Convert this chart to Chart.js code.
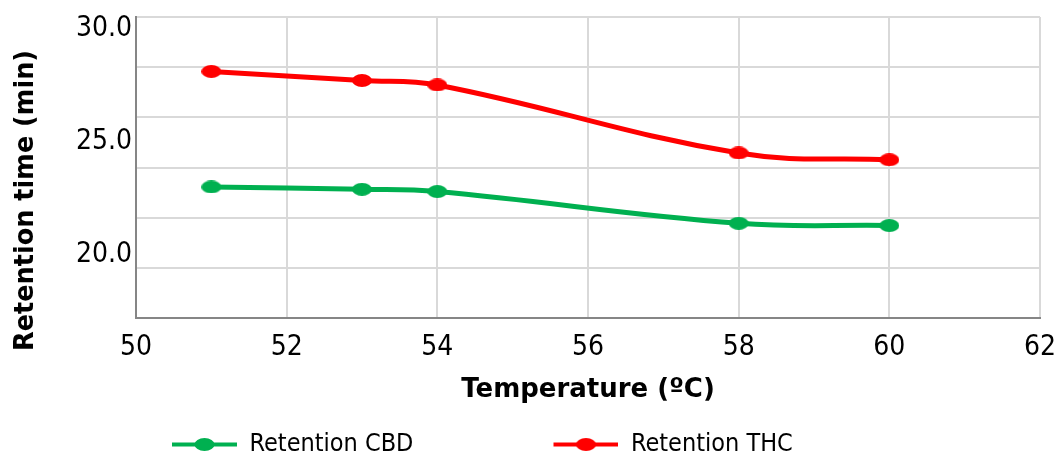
<!DOCTYPE html>
<html>
<head>
<meta charset="utf-8">
<script src="https://cdn.jsdelivr.net/npm/chart.js@4/dist/chart.umd.min.js"></script>
<style>
  html, body { margin: 0; padding: 0; background: #ffffff; }
  #wrap { width: 1055px; height: 457px; }
</style>
</head>
<body>
<div id="wrap"><canvas id="c" width="1055" height="457"></canvas></div>
<script>
// Retention time versus column temperature
const temperatures = [51, 53, 54, 58, 60];
const retentionCBD = [23.0, 22.9, 22.8, 21.4, 21.3];
const retentionTHC = [28.1, 27.7, 27.5, 24.5, 24.2];
const yTickLabels = [20, 25, 30];
const seriesNames = ['Retention CBD', 'Retention THC'];
const seriesColors = ['#00b050', '#ff0000'];

const Y_MIN = 17.22, Y_MAX = 30.5, GRID_ROWS = 6;
const FONT = "'DejaVu Sans Condensed', 'DejaVu Sans', sans-serif";
const BOLD_FONT = "'DejaVu Sans', sans-serif";
const LEG_GAP = 130, LEG_LINE = 65, LEG_LEFT = 32;

// Oval marker used on the data points
function dataMarker(color) {
  const c = document.createElement('canvas');
  c.width = 20; c.height = 13;
  const g = c.getContext('2d');
  g.fillStyle = color;
  g.beginPath();
  g.ellipse(10, 6.5, 10, 6.5, 0, 0, Math.PI * 2);
  g.fill();
  return c;
}

// Legend swatch: short line with an oval in the middle, preceded by spacing
function legendMarker(color) {
  const c = document.createElement('canvas');
  c.width = LEG_GAP + LEG_LINE; c.height = 13;
  const g = c.getContext('2d');
  g.strokeStyle = color;
  g.lineWidth = 4;
  g.beginPath();
  g.moveTo(LEG_GAP, 6.5);
  g.lineTo(LEG_GAP + LEG_LINE, 6.5);
  g.stroke();
  g.fillStyle = color;
  g.beginPath();
  g.ellipse(LEG_GAP + LEG_LINE / 2, 6.5, 10, 6.5, 0, 0, Math.PI * 2);
  g.fill();
  return c;
}

const seriesValues = [retentionCBD, retentionTHC];
const datasets = seriesNames.map((name, k) => ({
  label: name,
  data: temperatures.map((t, i) => ({ x: t, y: seriesValues[k][i] })),
  borderColor: seriesColors[k],
  backgroundColor: seriesColors[k],
  borderWidth: 5,
  tension: 0.4,
  fill: false,
  pointStyle: dataMarker(seriesColors[k]),
  pointRadius: 6,
  pointHoverRadius: 6
}));

// Evenly spaced horizontal gridlines across the value range
const gridValues = [];
for (let i = 0; i <= GRID_ROWS; i++) gridValues.push(Y_MIN + (Y_MAX - Y_MIN) * i / GRID_ROWS);
const isLabelTick = v => yTickLabels.some(l => Math.abs(l - v) < 1e-9);

// Positions the rotated value-axis title and the legend row
const placement = {
  id: 'placement',
  afterUpdate(chart) {
    const t = chart.titleBlock;
    t.top += 33; t.bottom += 33;
    const lg = chart.legend;
    const w = lg.right - lg.left;
    lg.left = LEG_LEFT; lg.right = LEG_LEFT + w;
    lg.top += 10; lg.bottom += 10;
  }
};

new Chart(document.getElementById('c'), {
  type: 'line',
  data: { datasets },
  options: {
    responsive: false,
    animation: false,
    devicePixelRatio: 1,
    layout: { padding: { top: 17, left: 0, right: 0, bottom: 0 } },
    plugins: {
      title: {
        display: true,
        position: 'left',
        fullSize: false,
        text: 'Retention time (min)',
        color: '#000000',
        font: { family: BOLD_FONT, size: 26, weight: 'bold' },
        padding: { top: 11, bottom: 0 }
      },
      legend: {
        position: 'bottom',
        align: 'start',
        labels: {
          usePointStyle: true,
          pointStyleWidth: LEG_GAP + LEG_LINE,
          padding: 10,
          color: '#000000',
          font: { family: FONT, size: 25 },
          generateLabels(chart) {
            const items = Chart.defaults.plugins.legend.labels.generateLabels(chart);
            items.forEach((it, i) => { it.pointStyle = legendMarker(seriesColors[i]); });
            return items;
          }
        }
      },
      tooltip: { enabled: false }
    },
    scales: {
      x: {
        type: 'linear',
        min: 50,
        max: 62,
        ticks: { stepSize: 2, padding: 13, color: '#000000', font: { family: FONT, size: 28 } },
        grid: { color: '#d9d9d9', lineWidth: 2, drawTicks: false },
        border: { color: '#868686', width: 2 },
        title: {
          display: true,
          text: 'Temperature (ºC)',
          color: '#000000',
          font: { family: BOLD_FONT, size: 26, weight: 'bold' },
          padding: { top: 0, bottom: 6 }
        },
        afterFit(s) {
          s.height = 457 - 318 - s.chart.legend.height;
          s.paddingRight = 15;
        }
      },
      y: {
        min: Y_MIN,
        max: Y_MAX,
        afterBuildTicks(s) {
          s.ticks = gridValues.concat(yTickLabels).sort((a, b) => a - b).map(v => ({ value: v }));
        },
        ticks: {
          autoSkip: false,
          padding: 4,
          color: '#000000',
          font: { family: FONT, size: 28 },
          callback: v => (isLabelTick(v) ? v.toFixed(1) : '')
        },
        grid: {
          color: c => (c.tick && isLabelTick(c.tick.value) ? 'rgba(0,0,0,0)' : '#d9d9d9'),
          lineWidth: 2,
          drawTicks: false
        },
        border: { color: '#868686', width: 2 },
        afterFit(s) {
          const tb = s.chart.titleBlock;
          s.width = 136 - (tb && tb.width ? tb.width : 42);
          s.paddingTop = 0;
          s.paddingBottom = 0;
        }
      }
    }
  },
  plugins: [placement]
});
</script>
</body>
</html>
